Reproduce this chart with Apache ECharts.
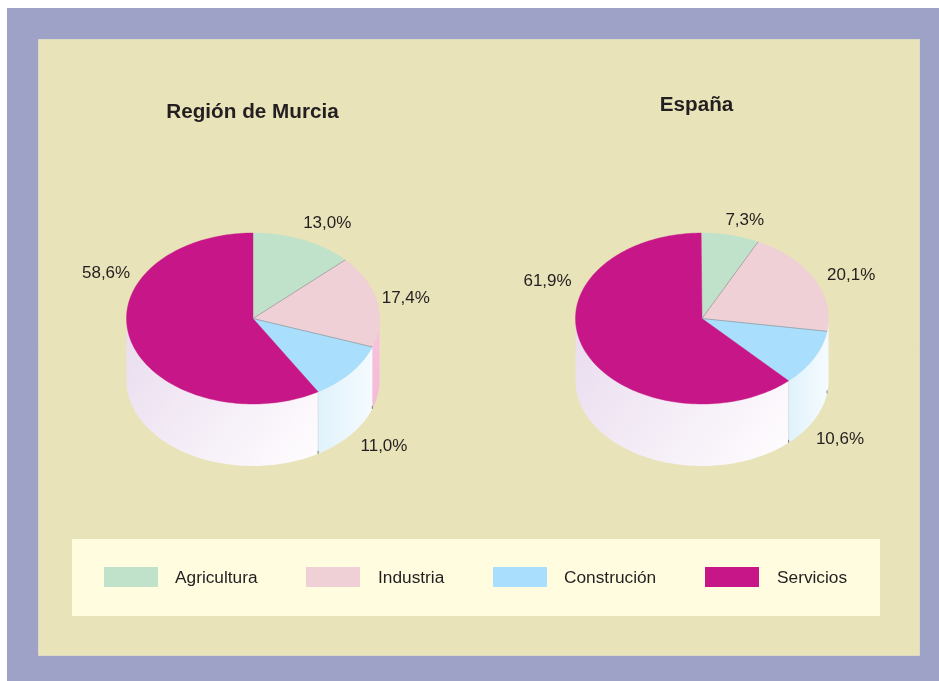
<!DOCTYPE html>
<html>
<head>
<meta charset="utf-8">
<style>html,body{margin:0;padding:0;background:#fff}#c{width:939px;height:681px}</style>
<script src="https://cdn.jsdelivr.net/npm/echarts@6/dist/echarts.min.js"></script>
</head>
<body>
<div id="c"></div>
<script>
var categories = ['Agricultura', 'Industria', 'Construción', 'Servicios'];
var murciaValues = [13.0, 17.4, 11.0, 58.6];
var espanaValues = [7.3, 20.1, 10.6, 61.9];
var titleMurcia = 'Región de Murcia';
var titleEspana = 'España';
var topColors = ['#C0E2CB', '#EED0D6', '#A9DFFC', '#C61688'];

var FONT = '"Liberation Sans", Arial, sans-serif';
var TEXT = '#231F20';
var RX = 126.5, RY = 85.5, DEPTH = 62;

var charts = [
  { cx: 253, cy: 318.5, values: murciaValues,
    labelOffsets: [[24, -17], [29, -3], [33, 74], [-25, -68]],
    industryWall: ['#F8C4DF', '#F5B9D9'] },
  { cx: 702, cy: 318.5, values: espanaValues,
    labelOffsets: [[14, -15], [37, -4], [26, 81], [-37, -69]],
    industryWall: ['#F2FAFF', '#F8FDFF'] }
];

var legendSwatchX = [104, 306, 493, 705];
var legendTextX = [175, 378, 564, 777];

function pt(cx, cy, deg, dy) {
  var r = deg * Math.PI / 180;
  return [cx + RX * Math.sin(r), cy - RY * Math.cos(r) + (dy || 0)];
}
function arc(cx, cy, a, b, dy) {
  var out = [], n = Math.max(2, Math.ceil(Math.abs(b - a) / 1.5));
  for (var i = 0; i <= n; i++) out.push(pt(cx, cy, a + (b - a) * i / n, dy));
  return out;
}
function makeRender(ch) {
  return function (params, api) {
    var i = params.dataIndex;
    var before = 0;
    for (var k = 0; k < i; k++) before += ch.values[k];
    var val = api.value(0);
    var a = before * 3.6, b = (before + val) * 3.6;
    var kids = [];
    var wa = Math.max(a, 90), wb = Math.min(b, 270);
    if (wb > wa) {
      var top = arc(ch.cx, ch.cy, wa, wb, 0);
      var bot = arc(ch.cx, ch.cy, wb, wa, DEPTH);
      var fill;
      if (i === 3) {
        fill = new echarts.graphic.LinearGradient(0, 0, 1, 1, [
          { offset: 0, color: '#E9DCEE' }, { offset: 1, color: '#FFFDFF' }]);
      } else if (i === 2) {
        fill = new echarts.graphic.LinearGradient(0, 0, 1, 0, [
          { offset: 0, color: '#E0F2FB' }, { offset: 1, color: '#F5FBFF' }]);
      } else {
        fill = new echarts.graphic.LinearGradient(0, 0, 0, 1, [
          { offset: 0, color: ch.industryWall[0] }, { offset: 1, color: ch.industryWall[1] }]);
      }
      kids.push({ type: 'polygon', shape: { points: top.concat(bot) }, style: { fill: fill } });
    }
    var slice = [[ch.cx, ch.cy]].concat(arc(ch.cx, ch.cy, a, b, 0));
    kids.push({ type: 'polygon', z2: 2, shape: { points: slice },
      style: { fill: topColors[i], stroke: topColors[i], lineWidth: 0.4 } });
    if (i === 0 || i === 1) {
      var e = pt(ch.cx, ch.cy, b, 0);
      kids.push({ type: 'line', z2: 5, shape: { x1: ch.cx, y1: ch.cy, x2: e[0], y2: e[1] },
        style: { stroke: '#8E8E92', lineWidth: 0.8, opacity: 0.85 } });
    }
    if (i === 2) {
      var s = pt(ch.cx, ch.cy, b, 0);
      kids.push({ type: 'line', z2: 1, shape: { x1: s[0], y1: s[1], x2: s[0], y2: s[1] + DEPTH },
        style: { stroke: '#9A9A9A', lineWidth: 0.6, opacity: 0.35 } });
      [a, b].forEach(function (ang) {
        var q = pt(ch.cx, ch.cy, ang, DEPTH);
        kids.push({ type: 'line', z2: 3, shape: { x1: q[0], y1: q[1] - 3, x2: q[0], y2: q[1] },
          style: { stroke: '#666', lineWidth: 0.8 } });
      });
    }
    var mid = pt(ch.cx, ch.cy, (a + b) / 2, 0);
    var off = ch.labelOffsets[i];
    kids.push({ type: 'text', z2: 6, x: mid[0] + off[0], y: mid[1] + off[1],
      style: { text: val.toFixed(1).replace('.', ',') + '%', fill: TEXT,
        font: '17px ' + FONT, align: 'center', verticalAlign: 'middle' } });
    return { type: 'group', children: kids };
  };
}

var graphics = [
  { type: 'rect', z: -10, shape: { x: 7, y: 8, width: 932, height: 673 },
    style: { fill: '#9DA2C6' } },
  { type: 'rect', z: -9, shape: { x: 38.5, y: 39.5, width: 881, height: 616 },
    style: { fill: '#E8E3B8', stroke: '#DCDAC2', lineWidth: 1 } },
  { type: 'rect', z: -8, shape: { x: 72, y: 539, width: 808, height: 77 },
    style: { fill: '#FFFCDF' } }
];
categories.forEach(function (name, i) {
  graphics.push({ type: 'rect', z: -7, shape: { x: legendSwatchX[i], y: 567, width: 54, height: 20 },
    style: { fill: topColors[i] } });
  graphics.push({ type: 'text', z: -7, x: legendTextX[i], y: 578.5,
    style: { text: name, fill: TEXT, font: '17.3px ' + FONT, align: 'left', verticalAlign: 'middle' } });
});

var chart = echarts.init(document.getElementById('c'), null, { renderer: 'canvas' });
chart.setOption({
  animation: false,
  backgroundColor: '#FFFFFF',
  title: [
    { text: titleMurcia, left: 252.5, top: 112, padding: 0, textAlign: 'center', textVerticalAlign: 'middle',
      textStyle: { fontFamily: FONT, fontSize: 20.7, fontWeight: 'bold', color: TEXT } },
    { text: titleEspana, left: 696.5, top: 105, padding: 0, textAlign: 'center', textVerticalAlign: 'middle',
      textStyle: { fontFamily: FONT, fontSize: 20.7, fontWeight: 'bold', color: TEXT } }
  ],
  graphic: graphics,
  series: charts.map(function (ch, idx) {
    return {
      type: 'custom',
      name: idx === 0 ? titleMurcia : titleEspana,
      coordinateSystem: 'none',
      silent: true,
      data: ch.values,
      renderItem: makeRender(ch)
    };
  })
});
</script>
</body>
</html>
